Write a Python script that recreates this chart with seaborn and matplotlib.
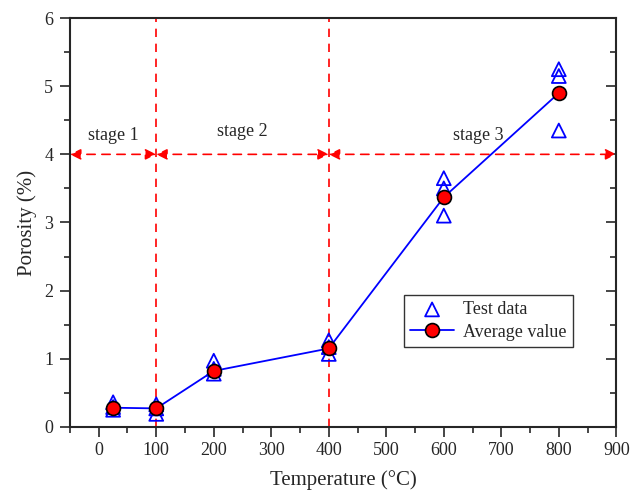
import matplotlib
matplotlib.use("Agg")
import matplotlib.pyplot as plt
import seaborn as sns
import pandas as pd
from matplotlib.ticker import MultipleLocator

# Test data (three specimens per temperature)
test_temp = [25, 25, 25, 100, 100, 100, 200, 200, 200, 400, 400, 400,
             600, 600, 600, 800, 800, 800]
test_por = [0.36, 0.25, 0.29, 0.33, 0.19, 0.27, 0.97, 0.78, 0.85, 1.27, 1.07, 1.17,
            3.65, 3.50, 3.10, 5.25, 5.15, 4.35]

# Average values
avg_temp = [25, 100, 200, 400, 600, 800]
avg_por = [0.28, 0.27, 0.82, 1.15, 3.37, 4.90]

stage_bounds = [-50, 100, 400, 900]
stage_labels = ["stage 1", "stage 2", "stage 3"]
stage_label_x = [25, 250, 660]
stage_label_y = [4.28, 4.33, 4.28]

sns.set_style("ticks")
plt.rcParams['font.family'] = ['Liberation Serif', 'DejaVu Serif']

fig = plt.figure(figsize=(6.42, 4.9), dpi=100)
ax = fig.add_axes([0.109, 0.129, 0.851, 0.834])

df_test = pd.DataFrame({"T": test_temp, "P": test_por})
df_avg = pd.DataFrame({"T": avg_temp, "P": avg_por})

# stage boundaries
for xb in stage_bounds[1:3]:
    ax.axvline(xb, color="red", ls=(0, (5, 4)), lw=1.2, zorder=1)
for a, b in zip(stage_bounds[:-1], stage_bounds[1:]):
    ax.annotate("", xy=(b, 4), xytext=(a, 4),
                arrowprops=dict(arrowstyle="<|-|>", color="red", lw=1.2,
                                ls=(0, (5, 4)), mutation_scale=16,
                                shrinkA=0, shrinkB=0), zorder=2)
for lab, lx, ly in zip(stage_labels, stage_label_x, stage_label_y):
    ax.text(lx, ly, lab, ha="center", va="center", fontsize=13)

sns.scatterplot(data=df_test, x="T", y="P", ax=ax, marker="^", s=100,
                facecolor="none", edgecolor="blue", linewidth=1.3,
                label="Test data", zorder=3)
sns.lineplot(data=df_avg, x="T", y="P", ax=ax, color="blue", lw=1.3,
             marker="o", markersize=10, markerfacecolor="red",
             markeredgecolor="black", markeredgewidth=1.2,
             label="Average value", zorder=4)

ax.set_xlim(-50, 900)
ax.set_ylim(0, 6)
ax.xaxis.set_major_locator(MultipleLocator(100))
ax.xaxis.set_minor_locator(MultipleLocator(50))
ax.yaxis.set_major_locator(MultipleLocator(1))
ax.yaxis.set_minor_locator(MultipleLocator(0.5))
ax.tick_params(which="major", direction="out", length=7, width=1.2, labelsize=13,
               right=True, top=False, pad=4)
ax.tick_params(which="minor", direction="out", length=4, width=1.2,
               right=True, top=False)
ax.tick_params(axis="y", which="major", pad=5)
for sp in ax.spines.values():
    sp.set_linewidth(1.5)
    sp.set_visible(True)
# right ticks inward
for t in ax.yaxis.get_major_ticks() + ax.yaxis.get_minor_ticks():
    t.tick2line.set_marker(matplotlib.lines.TICKLEFT)

ax.set_xlabel("Temperature (°C)", fontsize=15, labelpad=8)
ax.set_ylabel("Porosity (%)", fontsize=15, labelpad=5)

leg = ax.legend(loc="upper left", bbox_to_anchor=(0.595, 0.345), fontsize=13,
                frameon=True, fancybox=False, edgecolor="black",
                borderpad=0.35, handlelength=2.4, labelspacing=0.3,
                handletextpad=0.5)
leg.get_frame().set_linewidth(1.0)

fig.savefig("out.png", dpi=100)
